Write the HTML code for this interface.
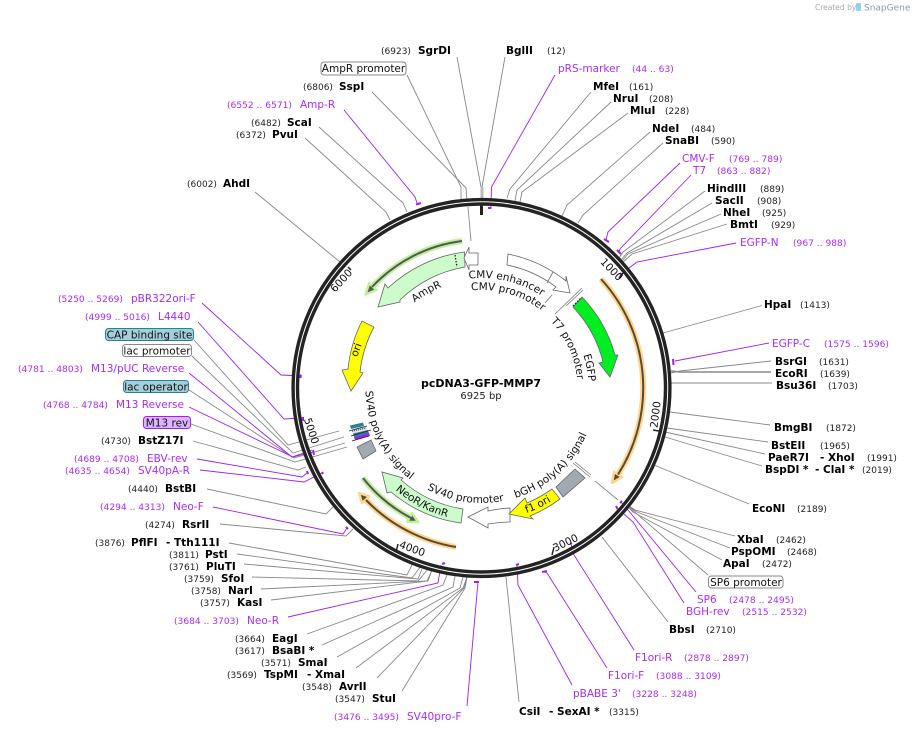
<!DOCTYPE html>
<html><head><meta charset="utf-8"><style>
html,body{margin:0;padding:0;background:#fff}
svg{display:block;font-family:"DejaVu Sans",sans-serif}
.b{font-size:10.5px;font-weight:bold;fill:#000}
.n{font-size:9px;fill:#222}
.p{font-size:10.5px;fill:#a82cf5}
.q{font-size:9.1px;fill:#a82cf5}
.t{font-size:10.5px;fill:#111}
.m{text-anchor:middle}
.g{fill:none;stroke:#888;stroke-width:.9}
.v{fill:none;stroke:#a020f0;stroke-width:.9}
.w{fill:none;stroke:#a020f0;stroke-width:2}
.f{stroke:#666;stroke-width:.8}
</style></head><body>
<svg width="913" height="733" viewBox="0 0 913 733" xmlns="http://www.w3.org/2000/svg">
<defs>
<path id="a1" d="M469,278.7 A110 110 0 0 1 576.8,333"/>
<path id="a2" d="M471.3,290.5 A98 98 0 0 1 566.4,339"/>
<path id="a3" d="M550.6,321.3 A96 96 0 0 1 564.6,436"/>
<path id="a4" d="M583.3,355 A107 107 0 0 1 574.2,441.5"/>
<path id="a5" d="M414.7,302.5 A108.5 108.5 0 0 1 481.5,279.5"/>
<path id="a6" d="M365.5,391 A116 116 0 0 0 481.5,504"/>
<path id="a7" d="M427,489.3 A115 115 0 0 0 579.5,448"/>
<path id="a8" d="M395.5,490 A133.5 133.5 0 0 0 520,516"/>
<path id="a9" d="M526.5,513.1 A133 133 0 0 0 600,449"/>
<path id="a10" d="M515.5,497.9 A115 115 0 0 0 596.5,388"/>
</defs>

<!-- connectors gray -->
<g class="g">
<polyline points="457,57 481,187"/><polyline points="505,57 482,187"/>
<polyline points="407,75 461,187 461,199"/>
<polyline points="372,92 466,188 467,200"/>
<polyline points="319,127 403,203 407,212"/>
<polyline points="305,138 386,212 390,220"/>
<polyline points="255,192 340,262"/>
<polyline points="591,92 510,189 507,198"/>
<polyline points="611,102 517,190 515,201"/>
<polyline points="628,113 522,192 520,202"/>
<polyline points="650,132 567,205 562,216"/>
<polyline points="663,143 583,215 578,223"/>
<polyline points="705,191 623,252 619,258"/>
<polyline points="712,203 627,253 621,260"/>
<polyline points="721,214 628,254 622,261"/>
<polyline points="727,224 632,254 623,262"/>
<polyline points="762,305.5 663,333"/>
<polyline points="771,361 680,371 671,373"/>
<polyline points="771,372 680,372 671,371" stroke-width="1.4"/>
<polyline points="772,383 682,383 671,383"/>
<polyline points="770,425 670,412"/>
<polyline points="768,442 667,428"/>
<polyline points="765,454 665,432"/>
<polyline points="762,466 665,437"/>
<polyline points="749,504 654,465"/>
<polyline points="735,536 635,510 628,505"/>
<polyline points="730,548 637,512 628,506"/>
<polyline points="722,560 633,512 628,507"/>
<polyline points="708,575 630,508"/>
<polyline points="668,622 602,537"/>
<polyline points="519,702 506,577"/>
<polyline points="194,340 288,445 339,431"/>
<polyline points="192,356 293,453 344,437"/>
<polyline points="189,390 294,458 345,443"/>
<polyline points="191,424 295,462 347,447"/>
<polyline points="193,441 298,470 306,467"/>
<polyline points="207,489 326,514 333,507"/>
<polyline points="220,524 346,536 353,529"/>
<polyline points="229,543 407,575 412,565"/>
<polyline points="237,554 412,578 421,566"/>
<polyline points="244,564 418,579 422,569"/>
<polyline points="252,577 418,581 428,569"/>
<polyline points="261,589 427,581 432,570"/>
<polyline points="271,600 428,581 432,570"/>
<polyline points="307,634 443,585 447,575"/>
<polyline points="322,645 453,587 455,576"/>
<polyline points="337,657 460,588 463,577"/>
<polyline points="356,668 463,588 467,577"/>
<polyline points="377,678 464,588 467,577"/>
<polyline points="402,691 465,588 467,577"/>
</g>
<line x1="482" y1="187" x2="482" y2="199" stroke="#bbb" stroke-width="3"/>

<!-- connectors purple -->
<g class="v">
<polyline points="555,75 491.5,187 491,207"/>
<polyline points="344,110 415,197 417,203"/>
<polyline points="680,163 608,232 606,240"/>
<polyline points="691,175 620,249 619,252"/>
<polyline points="736,243 637,262 629,268"/>
<polyline points="769,343 675,361"/>
<polyline points="696,592 628,510 621,502"/>
<polyline points="684,603 633,522 624,514"/>
<polyline points="634,650 574,555 571,544"/>
<polyline points="607,668 547,573 544,572"/>
<polyline points="572,685 518,585 517,565"/>
<polyline points="202,303 281,375 302,376"/>
<polyline points="198,322 284,419 302,418"/>
<polyline points="189,373 292,457 312,450"/>
<polyline points="189,407 293,457 312,452"/>
<polyline points="197,459 302,477 307,473"/>
<polyline points="200,470 304,482 322,473"/>
<polyline points="213,507 343,534 347,528"/>
<polyline points="288,617 438,583 441,565"/>
<polyline points="467,706 478,582"/>
</g>

<!-- ring -->
<circle cx="481.5" cy="388" r="186.2" fill="none" stroke="#232323" stroke-width="7.8"/>
<circle cx="481.5" cy="388" r="186.2" fill="none" stroke="#fff" stroke-width="1"/>

<!-- primer bars -->
<g class="w">
<line x1="416" y1="204.5" x2="421" y2="203"/>
<line x1="488" y1="208" x2="491.5" y2="208"/>
<line x1="604" y1="239" x2="609" y2="242"/>
<line x1="617" y1="250" x2="621" y2="254"/>
<line x1="620" y1="273" x2="622.5" y2="276"/>
<line x1="673" y1="359" x2="673.5" y2="365"/>
<line x1="616" y1="506" x2="617.5" y2="509"/>
<line x1="620" y1="503" x2="622" y2="501"/>
<line x1="570" y1="544" x2="572" y2="543"/>
<line x1="542" y1="572" x2="547" y2="571"/>
<line x1="516" y1="565" x2="519" y2="564"/>
<line x1="442" y1="564" x2="445" y2="563"/>
<line x1="474" y1="582" x2="479" y2="582"/>
<line x1="346" y1="527" x2="348" y2="529"/>
<line x1="307" y1="471" x2="308" y2="474"/>
<line x1="322" y1="472" x2="323" y2="474"/>
<line x1="313" y1="450" x2="314" y2="455"/>
<line x1="303" y1="417" x2="303" y2="421"/>
<line x1="300.5" y1="374.5" x2="300.5" y2="378"/>
</g>

<!-- ticks -->
<g stroke="#222" fill="none">
<line x1="481.5" y1="203" x2="481.5" y2="215" stroke-width="3"/>
<line x1="348" y1="267" x2="351" y2="270" stroke-width="1.5"/>
<line x1="623" y1="273" x2="619" y2="278" stroke-width="1.5"/>
<line x1="659" y1="431" x2="653" y2="430" stroke-width="1.5"/>
<line x1="554" y1="547" x2="552" y2="555" stroke-width="1.5"/>
<line x1="398" y1="544" x2="396" y2="552" stroke-width="1.5"/>
</g>
<g class="t" style="font-size:10.5px">
<text class="m" transform="translate(344,283) rotate(-48)">6000</text>
<text class="m" transform="translate(609,272) rotate(46)">1000</text>
<text class="m" transform="translate(659,415) rotate(-83)">2000</text>
<text class="m" transform="translate(567,546) rotate(-26)">3000</text>
<text class="m" transform="translate(411,552) rotate(20)">4000</text>
<text class="m" transform="translate(308,432) rotate(72)">5000</text>
</g>

<!-- highlight arcs -->
<g fill="none" stroke-linecap="butt">
<path d="M462,241 A148.5 148.5 0 0 0 372,287" stroke="#bff09a" stroke-width="6"/>
<path d="M601,279 A161.5 161.5 0 0 1 618,474.5" stroke="#ffd590" stroke-width="6"/>
<path d="M456,547 A161.5 161.5 0 0 1 366,500" stroke="#ffd590" stroke-width="6"/>
<path d="M363,478 A148.5 148.5 0 0 0 411,518" stroke="#bff09a" stroke-width="6"/>
</g>
<polygon points="365.5,294.5 369.2,283.3 376.5,290" fill="#555" stroke="#bff09a" stroke-width="2.5" stroke-linejoin="round"/>
<polygon points="612,483 622,477 614,472" fill="#5a4a30" stroke="#ffd590" stroke-width="2.5" stroke-linejoin="round"/>
<polygon points="359,493 362,503 369.3,496.4" fill="#5a4a30" stroke="#ffd590" stroke-width="2.5" stroke-linejoin="round"/>
<polygon points="418,522 407.3,521.9 412.1,513.1" fill="#555" stroke="#bff09a" stroke-width="2.5" stroke-linejoin="round"/>
<g fill="none" stroke="#555" stroke-width="2">
<path d="M462,241 A148.5 148.5 0 0 0 372,287"/>
<path d="M601,279 A161.5 161.5 0 0 1 618,474.5" stroke="#5a4a30"/>
<path d="M456,547 A161.5 161.5 0 0 1 366,500" stroke="#5a4a30"/>
<path d="M363,478 A148.5 148.5 0 0 0 411,518"/>
</g>

<!-- features -->
<path class="f" fill="#ccfccc" d="M464.5,252 A137 137 0 0 0 388,288 L385,284 L378,307 L400,302 L400,300 A122 122 0 0 1 465,267 Z"/>
<line x1="455" y1="255" x2="457" y2="267" stroke="#111" stroke-width="1.2" stroke-dasharray="1.5 1.5"/>
<path class="f" fill="#fff" d="M478,253 L469,253 L469,247 L464,258 L469,270 L469,265 L478,265 Z"/>
<path class="f" fill="#ffff00" d="M362,321 A137 137 0 0 0 348,369 L342,370 L351,391 L363,373 L360,372 A124 124 0 0 1 374,327 Z"/>
<path class="f" fill="#fff" d="M508,254 A137 137 0 0 1 566,281 L566,276 L570,293 L553,290 L556,287 A122 122 0 0 0 507,265 Z"/>
<line x1="553" y1="272" x2="547" y2="283" stroke="#777" stroke-width=".9"/>
<line x1="552" y1="295" x2="545" y2="303" stroke="#777" stroke-width=".9"/>
<g stroke="#777" stroke-width=".8">
<line x1="582" y1="288" x2="555" y2="314"/>
<line x1="583" y1="290" x2="566" y2="306"/>
</g>
<path class="f" fill="#00ee22" d="M582,297 A135.6 135.6 0 0 1 615,355 L618,355 L610,377 L599,363 L603,362 A124 124 0 0 0 573,307 Z"/>
<path d="M573,306 L581,298" stroke="#222" stroke-width="1.2" stroke-dasharray="1.5 1.5"/>
<path class="f" fill="#ccfccc" d="M382,472 L387,493 L391,492 A137 137 0 0 0 461,523 L463,509 A122 122 0 0 1 401,480 L403,478 Z"/>
<path class="f" fill="#fff" d="M468,517 L488,507 L488,511 A123 123 0 0 1 510,508 L510,522 A137 137 0 0 0 488,524 L488,528 Z"/>
<path class="f" fill="#ffff00" d="M509,514 L525,498 L527,503 A123 123 0 0 0 552,489 L560,499 A137 137 0 0 1 530,516 L533,519 Z"/>
<polygon class="f" fill="#a2a9b2" points="575,469 585,478 563,497 556,487"/>
<g stroke="#777" stroke-width=".8"><line x1="573" y1="463" x2="590" y2="477"/><line x1="575" y1="462" x2="591" y2="475"/></g>
<line x1="595" y1="481" x2="618" y2="500" stroke="#888" stroke-width=".9"/>
<line x1="468" y1="207" x2="471" y2="241" stroke="#888" stroke-width=".9"/>
<polygon class="f" fill="#a2a9b2" points="357,447 371,440 376,451 363,459"/>
<g>
<polygon points="350,425.5 363,422.5 364,426 351,429" fill="#2a8098"/>
<polygon points="352,429 365,426 368,431 353,435" fill="#dfe6e8"/>
<polygon points="353,433.5 368,430 369,433.5 354,437" fill="#2a8098"/>
<polygon points="354,437 369,433 370,436 355,440" fill="#a020f0"/>
<line x1="349" y1="431" x2="367" y2="426" stroke="#222" stroke-width=".8"/>
<line x1="351" y1="436" x2="371" y2="430" stroke="#222" stroke-width=".8"/>
<line x1="352" y1="441" x2="369" y2="436" stroke="#222" stroke-width=".8"/>
<line x1="352" y1="431" x2="366" y2="428" stroke="#555" stroke-width="1.6" stroke-dasharray="1 1"/>
</g>

<!-- curved labels -->
<g class="t">
<text><textPath href="#a1">CMV enhancer</textPath></text>
<text><textPath href="#a2">CMV promoter</textPath></text>
<text><textPath href="#a3">T7 promoter</textPath></text>
<text><textPath href="#a4">EGFP</textPath></text>
<text><textPath href="#a5">AmpR</textPath></text>
<text><textPath href="#a6">SV40 poly(A) signal</textPath></text>
<text><textPath href="#a7">SV40 promoter</textPath></text>
<text><textPath href="#a8">NeoR/KanR</textPath></text>
<text><textPath href="#a9">f1 ori</textPath></text>
<text><textPath href="#a10">bGH poly(A) signal</textPath></text>
<text class="m" transform="translate(359.5,351) rotate(-70)">ori</text>
</g>

<text x="481" y="387" class="m" style="font-size:11px;font-weight:bold">pcDNA3-GFP-MMP7</text>
<text x="481" y="399" class="m" style="font-size:10px;fill:#222">6925 bp</text>

<!-- boxes -->
<g>
<rect x="321" y="62" width="85" height="13" rx="3" fill="#fff" stroke="#888"/>
<text x="363.5" y="72" class="t m">AmpR promoter</text>
<rect x="708.5" y="576" width="74.5" height="12" rx="3" fill="#fff" stroke="#888"/>
<text x="746" y="586" class="t m">SP6 promoter</text>
<rect x="105.5" y="328.5" width="88" height="12" rx="3" fill="#a3cfdb" stroke="#2a8098"/>
<text x="149.5" y="338.5" class="t m">CAP binding site</text>
<rect x="122.5" y="344.5" width="69" height="12" rx="3" fill="#fff" stroke="#888"/>
<text x="157" y="354.5" class="t m">lac promoter</text>
<rect x="123.5" y="380.5" width="65" height="12" rx="3" fill="#a3cfdb" stroke="#2a8098"/>
<text x="156" y="390.5" class="t m">lac operator</text>
<rect x="143.5" y="416.5" width="47" height="12" rx="3" fill="#dcb4ff" stroke="#a020f0"/>
<text x="167" y="426.5" class="t m">M13 rev</text>
</g>

<!-- top labels -->
<text x="381" y="54" class="n">(6923)</text><text x="418" y="54" class="b">SgrDI</text>
<text x="506" y="54" class="b">BglII</text><text x="547" y="54" class="n">(12)</text>
<text x="558" y="72" class="p">pRS-marker</text><text x="632" y="72" class="q">(44 .. 63)</text>
<text x="303" y="90" class="n">(6806)</text><text x="339" y="90" class="b">SspI</text>
<text x="227" y="108" class="q">(6552 .. 6571)</text><text x="300" y="108" class="p">Amp-R</text>
<text x="251" y="126" class="n">(6482)</text><text x="287" y="126" class="b">ScaI</text>
<text x="236" y="138" class="n">(6372)</text><text x="272" y="138" class="b">PvuI</text>
<text x="187" y="187" class="n">(6002)</text><text x="223" y="187" class="b">AhdI</text>

<!-- right labels -->
<text x="593" y="90" class="b">MfeI</text><text x="629" y="90" class="n">(161)</text>
<text x="613" y="102" class="b">NruI</text><text x="649" y="102" class="n">(208)</text>
<text x="630" y="114" class="b">MluI</text><text x="665" y="114" class="n">(228)</text>
<text x="652" y="132" class="b">NdeI</text><text x="691" y="132" class="n">(484)</text>
<text x="665" y="144" class="b">SnaBI</text><text x="711" y="144" class="n">(590)</text>
<text x="682" y="162" class="p">CMV-F</text><text x="729" y="162" class="q">(769 .. 789)</text>
<text x="693" y="174" class="p">T7</text><text x="717" y="174" class="q">(863 .. 882)</text>
<text x="707" y="192" class="b">HindIII</text><text x="760" y="192" class="n">(889)</text>
<text x="715" y="204" class="b">SacII</text><text x="757" y="204" class="n">(908)</text>
<text x="723" y="216" class="b">NheI</text><text x="762" y="216" class="n">(925)</text>
<text x="730" y="228" class="b">BmtI</text><text x="771" y="228" class="n">(929)</text>
<text x="740" y="246" class="p">EGFP-N</text><text x="793" y="246" class="q">(967 .. 988)</text>
<text x="764" y="308" class="b">HpaI</text><text x="800" y="308" class="n">(1413)</text>
<text x="772" y="347" class="p">EGFP-C</text><text x="824" y="347" class="q">(1575 .. 1596)</text>
<text x="775" y="365" class="b">BsrGI</text><text x="819" y="365" class="n">(1631)</text>
<text x="775" y="377" class="b">EcoRI</text><text x="820" y="377" class="n">(1639)</text>
<text x="776" y="389" class="b">Bsu36I</text><text x="828" y="389" class="n">(1703)</text>
<text x="774" y="431" class="b">BmgBI</text><text x="826" y="431" class="n">(1872)</text>
<text x="771" y="449" class="b">BstEII</text><text x="820" y="449" class="n">(1965)</text>
<text x="768" y="461" class="b">PaeR7I</text><text x="820" y="461" class="b">- XhoI</text><text x="867" y="461" class="n">(1991)</text>
<text x="765" y="473" class="b">BspDI *</text><text x="815" y="473" class="b">- ClaI *</text><text x="862" y="473" class="n">(2019)</text>
<text x="752" y="512" class="b">EcoNI</text><text x="797" y="512" class="n">(2189)</text>
<text x="737" y="543" class="b">XbaI</text><text x="776" y="543" class="n">(2462)</text>
<text x="731" y="555" class="b">PspOMI</text><text x="787" y="555" class="n">(2468)</text>
<text x="723" y="567" class="b">ApaI</text><text x="762" y="567" class="n">(2472)</text>
<text x="697" y="603" class="p">SP6</text><text x="729" y="603" class="q">(2478 .. 2495)</text>
<text x="686" y="615" class="p">BGH-rev</text><text x="742" y="615" class="q">(2515 .. 2532)</text>
<text x="669" y="633" class="b">BbsI</text><text x="706" y="633" class="n">(2710)</text>
<text x="635" y="661" class="p">F1ori-R</text><text x="684" y="661" class="q">(2878 .. 2897)</text>
<text x="608" y="679" class="p">F1ori-F</text><text x="656" y="679" class="q">(3088 .. 3109)</text>
<text x="573" y="697" class="p">pBABE 3'</text><text x="632" y="697" class="q">(3228 .. 3248)</text>
<text x="519" y="715" class="b">CsiI</text><text x="549" y="715" class="b">- SexAI *</text><text x="609" y="715" class="n">(3315)</text>

<!-- left labels -->
<text x="58" y="302" class="q">(5250 .. 5269)</text><text x="131" y="302" class="p">pBR322ori-F</text>
<text x="85" y="320" class="q">(4999 .. 5016)</text><text x="158" y="320" class="p">L4440</text>
<text x="18" y="372" class="q">(4781 .. 4803)</text><text x="91" y="372" class="p">M13/pUC Reverse</text>
<text x="43" y="408" class="q">(4768 .. 4784)</text><text x="116" y="408" class="p">M13 Reverse</text>
<text x="101" y="444" class="n">(4730)</text><text x="138" y="444" class="b">BstZ17I</text>
<text x="74" y="462" class="q">(4689 .. 4708)</text><text x="147" y="462" class="p">EBV-rev</text>
<text x="65" y="474" class="q">(4635 .. 4654)</text><text x="138" y="474" class="p">SV40pA-R</text>
<text x="128" y="492" class="n">(4440)</text><text x="165" y="492" class="b">BstBI</text>
<text x="100" y="510" class="q">(4294 .. 4313)</text><text x="173" y="510" class="p">Neo-F</text>
<text x="145" y="528" class="n">(4274)</text><text x="182" y="528" class="b">RsrII</text>
<text x="95" y="546" class="n">(3876)</text><text x="131" y="546" class="b">PflFI</text><text x="166" y="546" class="b">- Tth111I</text>
<text x="169" y="558" class="n">(3811)</text><text x="205" y="558" class="b">PstI</text>
<text x="169" y="570" class="n">(3761)</text><text x="206" y="570" class="b">PluTI</text>
<text x="184" y="582" class="n">(3759)</text><text x="221" y="582" class="b">SfoI</text>
<text x="191" y="594" class="n">(3758)</text><text x="228" y="594" class="b">NarI</text>
<text x="200" y="606" class="n">(3757)</text><text x="237" y="606" class="b">KasI</text>
<text x="174" y="624" class="q">(3684 .. 3703)</text><text x="247" y="624" class="p">Neo-R</text>
<text x="235" y="642" class="n">(3664)</text><text x="272" y="642" class="b">EagI</text>
<text x="235" y="654" class="n">(3617)</text><text x="272" y="654" class="b">BsaBI *</text>
<text x="261" y="666" class="n">(3571)</text><text x="298" y="666" class="b">SmaI</text>
<text x="227" y="678" class="n">(3569)</text><text x="264" y="678" class="b">TspMI</text><text x="307" y="678" class="b">- XmaI</text>
<text x="302" y="690" class="n">(3548)</text><text x="339" y="690" class="b">AvrII</text>
<text x="335" y="702" class="n">(3547)</text><text x="372" y="702" class="b">StuI</text>
<text x="334" y="720" class="q">(3476 .. 3495)</text><text x="407" y="720" class="p">SV40pro-F</text>

<!-- watermark -->
<text x="815" y="10" style="font-size:7.5px;fill:#aaa">Created by</text>
<rect x="856" y="3" width="5" height="8" rx="1.5" fill="#8fd3ee"/>
<text x="864" y="10.5" style="font-size:9px;fill:#8a9aa5">SnapGene</text>
</svg>
</body></html>
